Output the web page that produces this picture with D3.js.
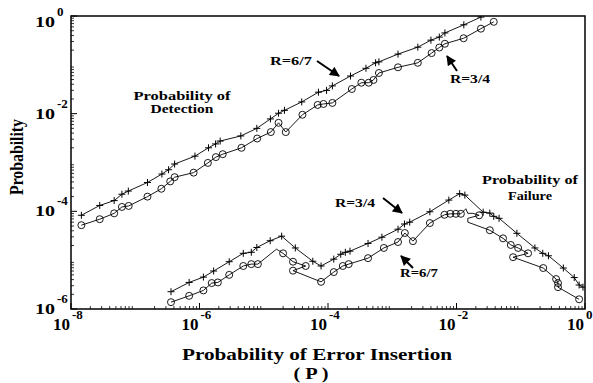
<!DOCTYPE html>
<html>
<head>
<meta charset="utf-8">
<script src="https://cdn.jsdelivr.net/npm/d3@7"></script>
<style>
  body { margin: 0; background: #fff; }
  text { font-family: "Liberation Serif", "Times New Roman", serif; font-weight: bold; fill: #000; }
</style>
</head>
<body>
<div id="chart"></div>
<script>
// Probability of detection, R=6/7 (crosses)
var detX67 = [1.45e-8, 2.8e-8, 4.7e-8, 6.2e-8, 7.8e-8, 1.55e-7, 2.6e-7, 3.3e-7, 4.1e-7, 8.5e-7, 1.38e-6, 1.78e-6, 2.1e-6, 4.4e-6, 7.8e-6, 1.27e-5, 1.7e-5, 2.1e-5, 3.9e-5, 7.1e-5, 9.5e-5, 1.17e-4, 2.24e-4, 3.9e-4, 5.5e-4, 6.2e-4, 1.23e-3, 2.5e-3, 4.0e-3, 5.4e-3, 6.6e-3, 1.3e-2, 2.4e-2];
var detY67 = [8.3e-5, 1.32e-4, 1.66e-4, 2.24e-4, 2.6e-4, 3.9e-4, 5.8e-4, 7.1e-4, 9.3e-4, 1.35e-3, 2.0e-3, 2.4e-3, 2.75e-3, 3.5e-3, 5.0e-3, 7.8e-3, 1.02e-2, 1.17e-2, 1.74e-2, 2.75e-2, 3.0e-2, 3.7e-2, 5.9e-2, 8.5e-2, 0.11, 0.115, 0.166, 0.23, 0.32, 0.37, 0.45, 0.66, 0.95];

// Probability of detection, R=3/4 (circles)
var detX34 = [1.45e-8, 2.8e-8, 4.7e-8, 6.2e-8, 7.9e-8, 1.55e-7, 2.55e-7, 3.5e-7, 4.1e-7, 8.1e-7, 1.35e-6, 1.8e-6, 2.3e-6, 4.5e-6, 7.9e-6, 1.29e-5, 1.7e-5, 2.2e-5, 4.0e-5, 6.9e-5, 8.5e-5, 1.17e-4, 2.35e-4, 3.3e-4, 4.3e-4, 5.1e-4, 6.2e-4, 1.23e-3, 2.5e-3, 4.1e-3, 5.4e-3, 6.6e-3, 1.29e-2, 2.4e-2, 3.8e-2];
var detY34 = [5.2e-5, 6.9e-5, 9.1e-5, 1.23e-4, 1.29e-4, 2.0e-4, 2.9e-4, 4.1e-4, 5.0e-4, 6.2e-4, 9.8e-4, 1.29e-3, 1.48e-3, 2.0e-3, 3.1e-3, 4.2e-3, 6.5e-3, 4.2e-3, 9.5e-3, 1.51e-2, 1.58e-2, 1.66e-2, 3.2e-2, 4.3e-2, 4.3e-2, 4.9e-2, 6.8e-2, 8.9e-2, 0.11, 0.174, 0.226, 0.27, 0.35, 0.55, 0.76];

// Probability of failure, R=3/4 (crosses)
var failX34 = [3.6e-7, 6.9e-7, 1.15e-6, 1.66e-6, 2.9e-6, 4.8e-6, 6.4e-6, 7.8e-6, 1.26e-5, 1.9e-5, 3.1e-5, 5.8e-5, 7.8e-5, 1.23e-4, 1.58e-4, 1.86e-4, 2.2e-4, 4.2e-4, 6.9e-4, 1.23e-3, 1.55e-3, 1.87e-3, 3.85e-3, 7.6e-3, 1.12e-2, 1.35e-2, 2.6e-2, 3.3e-2, 3.8e-2, 4.6e-2, 8.7e-2, 0.166, 0.22, 0.27, 0.46, 0.68, 0.81, 0.93];
var failY34 = [2.26e-6, 3.5e-6, 4.5e-6, 6.0e-6, 9.3e-6, 1.38e-5, 1.45e-5, 1.82e-5, 2.5e-5, 3.1e-5, 1.78e-5, 9.5e-6, 7.6e-6, 1.05e-5, 1.32e-5, 1.45e-5, 1.53e-5, 2.2e-5, 2.95e-5, 4.3e-5, 5.5e-5, 6.0e-5, 9.8e-5, 1.7e-4, 2.3e-4, 2.15e-4, 9.6e-5, 9.2e-5, 7.9e-5, 7.2e-5, 3.55e-5, 1.78e-5, 1.38e-5, 1.23e-5, 6.9e-6, 4.4e-6, 3.1e-6, 2.8e-6];

// Probability of failure, R=6/7 (circles)
var failX67 = [3.6e-7, 6.9e-7, 1.15e-6, 1.55e-6, 1.93e-6, 2.9e-6, 4.8e-6, 6.4e-6, 8.1e-6, 1.58e-5, 2.0e-5, 2.85e-5, 4.5e-5, 2.85e-5, 7.8e-5, 1.23e-4, 1.7e-4, 2.1e-4, 4.2e-4, 7.4e-4, 1.23e-3, 1.57e-3, 2.1e-3, 3.85e-3, 6.5e-3, 8.0e-3, 9.8e-3, 1.17e-2, 1.4e-2, 1.5e-2, 1.8e-2, 2.25e-2, 1.5e-2, 1.5e-2, 3.3e-2, 5.3e-2, 7.0e-2, 9.1e-2, 0.13, 7.6e-2, 0.224, 0.355, 0.38, 0.38, 0.81];
var failY67 = [1.38e-6, 1.86e-6, 2.4e-6, 3.4e-6, 3.5e-6, 5.0e-6, 7.6e-6, 8.3e-6, 8.3e-6, 1.68e-5, 1.38e-5, 9.3e-6, 7.6e-6, 6.1e-6, 3.6e-6, 5.7e-6, 7.6e-6, 8.3e-6, 1.1e-5, 1.78e-5, 2.35e-5, 3.6e-5, 2.45e-5, 5.75e-5, 8.5e-5, 8.9e-5, 8.9e-5, 8.9e-5, 1.13e-4, 9.1e-5, 9.1e-5, 8.3e-5, 7.2e-5, 6.0e-5, 4.1e-5, 2.8e-5, 2.05e-5, 1.78e-5, 1.38e-5, 1.15e-5, 6.9e-6, 4.1e-6, 3.4e-6, 2.8e-6, 1.58e-6];
// vertices of the failure R=6/7 line that carry no circle
var failNoMark67 = [9, 28, 29, 30, 32, 33];

// tick labels (powers of ten)
var xTickExps = [-8, -6, -4, -2, 0];
var yTickExps = [-6, -4, -2, 0];

// Chart Params
var svgWidth = 593;
var svgHeight = 383;
var margin = { top: 16, right: 8, bottom: 74, left: 71 };
var width = svgWidth - margin.left - margin.right;
var height = svgHeight - margin.top - margin.bottom;

var svg = d3.select("#chart").append("svg")
  .attr("width", svgWidth)
  .attr("height", svgHeight);

var defs = svg.append("defs");
defs.append("clipPath").attr("id", "plotClip")
  .append("rect").attr("width", width).attr("height", height);
defs.append("marker")
  .attr("id", "arrow")
  .attr("viewBox", "0 0 10 10")
  .attr("refX", 9).attr("refY", 5)
  .attr("markerUnits", "userSpaceOnUse")
  .attr("markerWidth", 11).attr("markerHeight", 10)
  .attr("orient", "auto")
  .append("path").attr("d", "M0,0 L10,5 L0,10 Z").attr("fill", "#000");

var chartGroup = svg.append("g")
  .attr("transform", `translate(${margin.left}, ${margin.top})`);

var x = d3.scaleLog().domain([1e-8, 1]).range([0, width]);
var y = d3.scaleLog().domain([1e-6, 1]).range([height, 0]);

// minor / major ticks, inward
var xMinor = [], yMinor = [];
for (var k = -8; k < 0; k++) {
  for (var m = 2; m < 10; m++) {
    xMinor.push(m * Math.pow(10, k));
    if (k >= -6) yMinor.push(m * Math.pow(10, k));
  }
}
chartGroup.selectAll(".xminor").data(xMinor).enter().append("line")
  .attr("x1", d => x(d)).attr("x2", d => x(d))
  .attr("y1", height).attr("y2", height - 3)
  .attr("stroke", "#000").attr("stroke-width", 0.8);
chartGroup.selectAll(".yminor").data(yMinor).enter().append("line")
  .attr("y1", d => y(d)).attr("y2", d => y(d))
  .attr("x1", 0).attr("x2", 3)
  .attr("stroke", "#000").attr("stroke-width", 0.8);
chartGroup.selectAll(".xmajor").data(xTickExps).enter().append("line")
  .attr("x1", d => x(Math.pow(10, d))).attr("x2", d => x(Math.pow(10, d)))
  .attr("y1", height).attr("y2", height - 6)
  .attr("stroke", "#000").attr("stroke-width", 1);
chartGroup.selectAll(".ymajor").data(yTickExps).enter().append("line")
  .attr("y1", d => y(Math.pow(10, d))).attr("y2", d => y(Math.pow(10, d)))
  .attr("x1", 0).attr("x2", 6)
  .attr("stroke", "#000").attr("stroke-width", 1);

// frame
chartGroup.append("rect")
  .attr("width", width).attr("height", height)
  .attr("fill", "none").attr("stroke", "#000").attr("stroke-width", 1.5);

// x tick labels
xTickExps.forEach(function(e) {
  var px = x(Math.pow(10, e));
  chartGroup.append("text").attr("x", px - 1).attr("y", height + 21)
    .attr("text-anchor", "end").style("font-size", "17px").text("10");
  chartGroup.append("text").attr("x", px + 1).attr("y", height + 10)
    .attr("text-anchor", "start").style("font-size", "13px").text(e);
});

// y tick labels
yTickExps.forEach(function(e) {
  var py = y(Math.pow(10, e));
  var shift = e === 0 ? 6 : 0;
  chartGroup.append("text").attr("x", -16).attr("y", py + 5 + shift)
    .attr("text-anchor", "end").attr("textLength", 20).attr("lengthAdjust", "spacingAndGlyphs")
    .style("font-size", "15px").text("10");
  chartGroup.append("text").attr("x", -14).attr("y", py - 6 + shift)
    .attr("text-anchor", "start").style("font-size", "13px").text(e);
});

// series
var lineGen = d3.line().x(d => x(d[0])).y(d => y(d[1]));
var plot = chartGroup.append("g").attr("clip-path", "url(#plotClip)");

function zipXY(xs, ys) { return xs.map((v, i) => [v, ys[i]]); }

var detect67 = zipXY(detX67, detY67);
var detect34 = zipXY(detX34, detY34);
var fail34 = zipXY(failX34, failY34);
var fail67 = zipXY(failX67, failY67);

[detect67, detect34, fail34, fail67].forEach(function(s) {
  plot.append("path").datum(s)
    .attr("d", lineGen)
    .attr("fill", "none").attr("stroke", "#000").attr("stroke-width", 0.9);
});

function drawCrosses(s) {
  plot.append("g").selectAll("path").data(s).enter().append("path")
    .attr("transform", d => `translate(${x(d[0])},${y(d[1])})`)
    .attr("d", "M-3.5,0H3.5M0,-3.5V3.5")
    .attr("stroke", "#000").attr("stroke-width", 1);
}
function drawCircles(s) {
  plot.append("g").selectAll("circle").data(s).enter().append("circle")
    .attr("cx", d => x(d[0])).attr("cy", d => y(d[1]))
    .attr("r", 3.5)
    .attr("fill", "none").attr("stroke", "#000").attr("stroke-width", 0.9);
}
drawCrosses(detect67);
drawCircles(detect34);
drawCrosses(fail34);
drawCircles(fail67.filter((d, i) => failNoMark67.indexOf(i) < 0));

// annotations (page coordinates)
function label(str, px, py, size, len, anchor) {
  svg.append("text").attr("x", px).attr("y", py)
    .attr("text-anchor", anchor || "start")
    .attr("textLength", len).attr("lengthAdjust", "spacingAndGlyphs")
    .style("font-size", size + "px").text(str);
}
function arrow(x1, y1, x2, y2) {
  svg.append("line").attr("x1", x1).attr("y1", y1).attr("x2", x2).attr("y2", y2)
    .attr("stroke", "#000").attr("stroke-width", 2)
    .attr("marker-end", "url(#arrow)");
}

label("Probability of", 182, 100, 12.5, 97, "middle");
label("Detection", 182, 113, 12.5, 63, "middle");
label("Probability of", 530, 184, 12.5, 96, "middle");
label("Failure", 530, 200, 12.5, 44, "middle");

label("R=6/7", 270, 65, 12, 42);
arrow(317, 61, 339, 76);
label("R=3/4", 450, 83, 12, 40);
arrow(457, 71, 447, 56);
label("R=3/4", 335, 207, 12, 40);
arrow(383, 198, 402, 213);
label("R=6/7", 400, 277, 12, 38);
arrow(413, 268, 401, 256);

// axis titles
label("Probability of Error Insertion", 317, 360, 16, 270, "middle");
label("( P )", 311, 379, 16, 35, "middle");

svg.append("text")
  .attr("transform", "translate(23,157) rotate(-90)")
  .attr("text-anchor", "middle")
  .attr("textLength", 76).attr("lengthAdjust", "spacingAndGlyphs")
  .style("font-size", "18px")
  .text("Probability");
</script>
</body>
</html>
